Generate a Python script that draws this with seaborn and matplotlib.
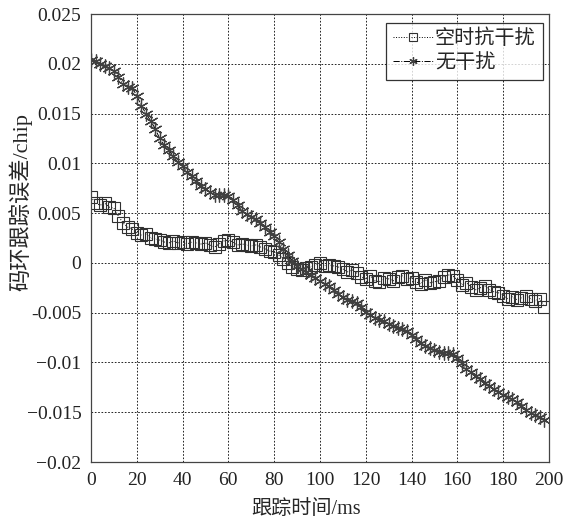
import numpy as np
import pandas as pd
import matplotlib
matplotlib.use("Agg")
import matplotlib.pyplot as plt
import seaborn as sns

time_ms = list(range(0, 200, 2))
stap = [0.0066, 0.0060, 0.0058, 0.0060, 0.0056, 0.0055, 0.0047, 0.0040, 0.0036, 0.0034,
        0.0030, 0.0028, 0.0029, 0.0025, 0.0024, 0.0023, 0.0021, 0.0020, 0.0022, 0.0020,
        0.0021, 0.0019, 0.0021, 0.0020, 0.0019, 0.0020, 0.0018, 0.0016, 0.0019, 0.0022,
        0.0023, 0.0021, 0.0018, 0.0019, 0.0018, 0.0017, 0.0018, 0.0016, 0.0014, 0.0012,
        0.0011, 0.0008, 0.0004, 0.0000, -0.0004, -0.0006, -0.0007, -0.0005, -0.0004, -0.0002,
        0.0000, -0.0003, -0.0002, -0.0003, -0.0004, -0.0006, -0.0009, -0.0007, -0.0010, -0.0014,
        -0.0016, -0.0013, -0.0018, -0.0019, -0.0015, -0.0016, -0.0018, -0.0014, -0.0013, -0.0016,
        -0.0015, -0.0019, -0.0021, -0.0017, -0.0020, -0.0019, -0.0018, -0.0014, -0.0012, -0.0013,
        -0.0017, -0.0022, -0.0020, -0.0024, -0.0027, -0.0025, -0.0023, -0.0027, -0.0029, -0.0030,
        -0.0033, -0.0036, -0.0034, -0.0037, -0.0035, -0.0033, -0.0036, -0.0038, -0.0036, -0.0044]
nojam = [0.0204, 0.0203, 0.0200, 0.0198, 0.0196, 0.0193, 0.0187, 0.0180, 0.0177, 0.0176,
         0.0168, 0.0158, 0.0150, 0.0143, 0.0135, 0.0125, 0.0118, 0.0113, 0.0107, 0.0101,
         0.0097, 0.0091, 0.0087, 0.0082, 0.0077, 0.0074, 0.0071, 0.0068, 0.0068, 0.0068,
         0.0067, 0.0063, 0.0058, 0.0052, 0.0049, 0.0046, 0.0044, 0.0040, 0.0036, 0.0031,
         0.0027, 0.0021, 0.0014, 0.0008, 0.0002, -0.0003, -0.0006, -0.0009, -0.0012, -0.0015,
         -0.0018, -0.0021, -0.0023, -0.0027, -0.0031, -0.0034, -0.0037, -0.0038, -0.0040, -0.0044,
         -0.0049, -0.0052, -0.0055, -0.0057, -0.0058, -0.0061, -0.0063, -0.0065, -0.0066, -0.0068,
         -0.0072, -0.0076, -0.0080, -0.0083, -0.0085, -0.0087, -0.0089, -0.0090, -0.0090, -0.0092,
         -0.0096, -0.0101, -0.0107, -0.0110, -0.0114, -0.0117, -0.0121, -0.0124, -0.0127, -0.0130,
         -0.0133, -0.0135, -0.0137, -0.0140, -0.0144, -0.0148, -0.0151, -0.0153, -0.0155, -0.0158]
series_names = ["空时抗干扰", "无干扰"]
x_ticks = [0, 20, 40, 60, 80, 100, 120, 140, 160, 180, 200]
y_ticks = [0.025, 0.02, 0.015, 0.01, 0.005, 0, -0.005, -0.01, -0.015, -0.02]
y_tick_labels = ["0.025", "0.02", "0.015", "0.01", "0.005", "0", "-0.005", "\u22120.01", "\u22120.015", "\u22120.02"]

sns.set_theme(style="white")
fam = ["Liberation Serif", "Noto Sans CJK SC"]
plt.rcParams["font.family"] = fam

fig = plt.figure(figsize=(5.67, 5.19), dpi=100)
ax = fig.add_axes([0.1605, 0.1098, 0.8075, 0.8632])

df1 = pd.DataFrame({"t": time_ms, "v": stap})
df2 = pd.DataFrame({"t": time_ms, "v": nojam})
sns.lineplot(data=df1, x="t", y="v", ax=ax, color="black", linestyle=":", linewidth=0.7,
             marker="s", markersize=8.5, markerfacecolor="none", markeredgecolor="#303030",
             markeredgewidth=0.8, label=series_names[0])
sns.lineplot(data=df2, x="t", y="v", ax=ax, color="black", linestyle="-.", linewidth=0.7,
             marker=(6, 2, 0), markersize=10, markerfacecolor="#404040", markeredgecolor="#404040",
             markeredgewidth=0.9, label=series_names[1])

ax.set_xlim(0, 200)
ax.set_ylim(-0.02, 0.025)
ax.set_xticks(x_ticks)
ax.set_xticklabels([str(v) for v in x_ticks])
ax.set_yticks(y_ticks)
ax.set_yticklabels(y_tick_labels)
ax.grid(True, color="black", linestyle=(0, (2, 2)), linewidth=0.6)
for s in ax.spines.values():
    s.set_color("#444444")
    s.set_linewidth(0.9)
ax.tick_params(axis="both", labelsize=14, colors="#222222", length=0, pad=7)
ax.set_xlabel("跟踪时间/ms", fontsize=14.5, family=fam)
ax.xaxis.set_label_coords(0.47, -0.085)
ax.set_ylabel("码环跟踪误差/chip", fontsize=16, family=fam)
ax.yaxis.set_label_coords(-0.128, 0.58)

leg = ax.legend(loc="upper right", bbox_to_anchor=(0.995, 0.99), frameon=True, fancybox=False,
                edgecolor="black", prop={"family": fam, "size": 14.5}, borderpad=0.35,
                handlelength=2.0, handletextpad=0.1, labelspacing=0.25, borderaxespad=0.2,
                markerscale=0.6)
leg.get_frame().set_linewidth(0.9)

fig.savefig("out.png", dpi=100)
